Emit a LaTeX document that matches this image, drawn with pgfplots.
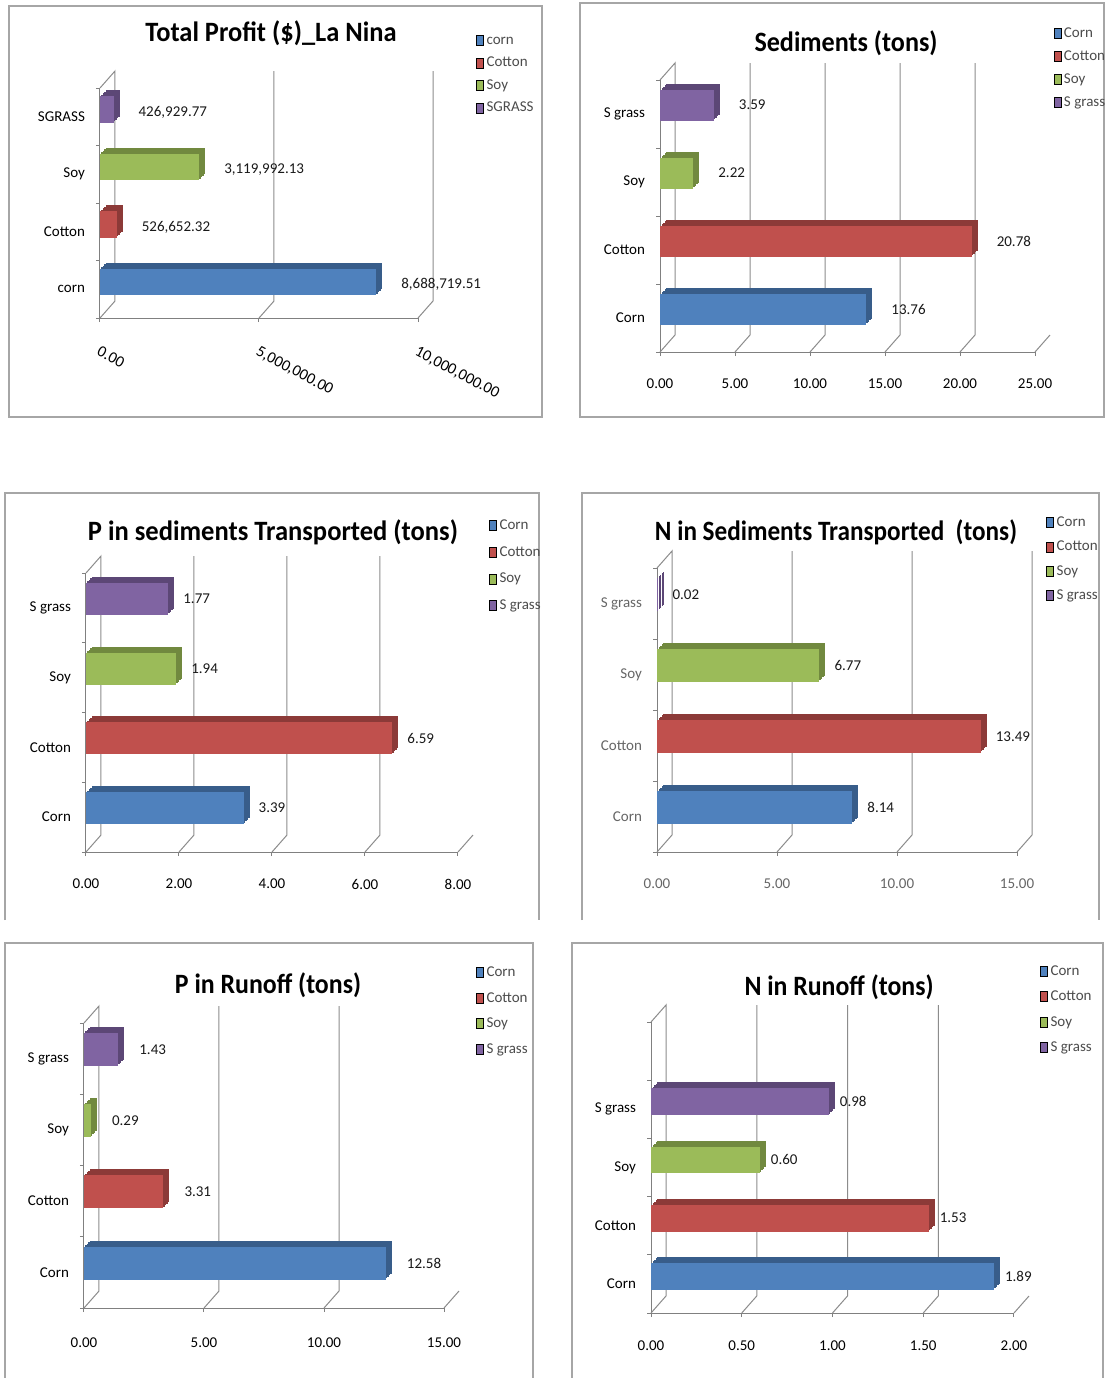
\documentclass[border=0pt]{standalone}
\usepackage{graphicx}
\usepackage{pgfplots}
\pgfplotsset{compat=1.18}
\usepackage{fontspec}
\setmainfont{Carlito}

\definecolor{cornF}{HTML}{4F81BD}
\definecolor{cornD}{HTML}{385D8A}
\definecolor{cottF}{HTML}{C0504D}
\definecolor{cottD}{HTML}{8C3A38}
\definecolor{soyF}{HTML}{9BBB59}
\definecolor{soyD}{HTML}{71893F}
\definecolor{sgF}{HTML}{8064A2}
\definecolor{sgD}{HTML}{5C4776}

\tikzset{
  frame/.style={draw=black!35, line width=0.8pt},
  wall/.style={draw=black!45, line width=0.5pt},
}

% depth of the back wall
\def\wdx{7.5pt}
\def\wdy{8.5pt}

\pgfplotsset{
  panel/.style={
    scale only axis, anchor=south west, clip=false,
    xbar, xmin=0, ymin=-0.5,
    scaled x ticks=false,
    axis lines*=left,
    axis line style={draw=black!50, line width=0.5pt},
    tick align=outside, major tick length=2pt,
    tick style={draw=black!50, line width=0.5pt},
    yticklabels={},
    extra y tick style={major tick length=0pt, yticklabel style={xshift=-4pt}},
    tick label style={font=\fontsize{7.5}{9}\selectfont},
    point meta=explicit symbolic,
    every node near coord/.append style={font=\fontsize{7.5}{9}\selectfont, text=black!90, anchor=west},
    legend image code/.code={\fill[##1] (0pt,-2.5pt) rectangle (3.5pt,2.5pt);},
    legend cell align=left,
    legend style={draw=none, fill=none, anchor=north west,
      font=\fontsize{7.5}{9}\selectfont, text=black!70,
      nodes={inner sep=0pt, inner xsep=1.2pt, text height=5.5pt, text depth=1.5pt}},
  },
  cb/.style={xbar, bar shift=0.13, bar width=0.46, draw=none},
}

% one extruded bar: side colour copies behind, face colour in front with its label
\newcommand{\cropbar}[3]{%
  \addplot[cb, fill=#2, forget plot, xshift=3pt, yshift=3pt] coordinates {#3};
  \addplot[cb, fill=#2, forget plot, xshift=2.25pt, yshift=2.25pt] coordinates {#3};
  \addplot[cb, fill=#2, forget plot, xshift=1.5pt, yshift=1.5pt] coordinates {#3};
  \addplot[cb, fill=#2, forget plot, xshift=0.75pt, yshift=0.75pt] coordinates {#3};
  \addplot[cb, fill=#1, forget plot, nodes near coords={\pgfplotspointmeta}] coordinates {#3};
}
% left wall of the box
\newcommand{\leftwall}[1]{%
  \draw[wall] (axis cs:0,-0.5) -- ([shift={(\wdx,\wdy)}]axis cs:0,-0.5)
     -- ([shift={(\wdx,\wdy)}]axis cs:0,#1) -- (axis cs:0,#1);}
% floor lines and back-wall grid lines
\newcommand{\gridwall}[2]{%
  \pgfplotsinvokeforeach{#2}{\draw[wall] (axis cs:##1,-0.5) -- ([shift={(\wdx,\wdy)}]axis cs:##1,-0.5)
     -- ([shift={(\wdx,\wdy)}]axis cs:##1,#1);}}
\newcommand{\floorwall}[1]{%
  \pgfplotsinvokeforeach{#1}{\draw[wall] (axis cs:##1,-0.5) -- ([shift={(\wdx,\wdy)}]axis cs:##1,-0.5);}}

\newcommand{\ttl}[4]{\node[inner sep=0pt] at (#1,#2) {\resizebox{#3}{\height}{\fontsize{14}{16}\selectfont\bfseries #4}};}

\begin{document}
\begin{tikzpicture}
\useasboundingbox (0,0) rectangle (553.5pt,-689pt);
\fill[white] (0,0) rectangle (553.5pt,-689pt);

% panel frames
\draw[frame] (4.5pt,-3pt) rectangle (271pt,-208.5pt);
\draw[frame] (290pt,-1.5pt) rectangle (552pt,-208.5pt);
\draw[frame] (2.5pt,-460pt) -- (2.5pt,-246.5pt) -- (269.5pt,-246.5pt) -- (269.5pt,-460pt);
\draw[frame] (291pt,-460pt) -- (291pt,-246.5pt) -- (549.5pt,-246.5pt) -- (549.5pt,-460pt);
\draw[frame] (2.5pt,-690pt) -- (2.5pt,-471.5pt) -- (266.5pt,-471.5pt) -- (266.5pt,-690pt);
\draw[frame] (286pt,-690pt) -- (286pt,-471.5pt) -- (551.5pt,-471.5pt) -- (551.5pt,-690pt);

% titles
\ttl{135.5pt}{-16.5pt}{125.5pt}{Total Profit (\$)\_La Nina}
\ttl{423pt}{-21.5pt}{91.5pt}{Sediments (tons)}
\ttl{136.5pt}{-266pt}{185pt}{P in sediments Transported (tons)}
\ttl{418pt}{-266pt}{181pt}{N in Sediments Transported\ \ (tons)}
\ttl{134pt}{-492.5pt}{93pt}{P in Runoff (tons)}
\ttl{419.5pt}{-493.5pt}{94.5pt}{N in Runoff (tons)}

% ---- Total profit
\begin{axis}[panel, at={(50pt,-159pt)}, width=159pt, height=115pt,
  xmax=1e7, ymax=3.5,
  xtick={0,5e6,1e7}, xticklabels={0.00,{5,000,000.00},{10,000,000.00}},
  xticklabel style={font=\fontsize{8}{9}\selectfont, xshift=-1pt, yshift=-7pt, rotate=-28, anchor=north west},
  ytick={-0.5,0.5,1.5,2.5,3.5},
  extra y ticks={0,1,2,3}, extra y tick labels={corn,Cotton,Soy,SGRASS},
  every node near coord/.append style={xshift=9pt, yshift=-1.5pt},
  legend style={at={(axis description cs:1.1635,1.2565)}, row sep=4.25pt}]
\leftwall{3.5}
\gridwall{3.5}{5e6,1e7}
\addlegendimage{fill=cornF}\addlegendentry{corn}
\addlegendimage{fill=cottF}\addlegendentry{Cotton}
\addlegendimage{fill=soyF}\addlegendentry{Soy}
\addlegendimage{fill=sgF}\addlegendentry{SGRASS}
\cropbar{cornF}{cornD}{(8688719.51,0) [{8,688,719.51}]}
\cropbar{cottF}{cottD}{(526652.32,1) [{526,652.32}]}
\cropbar{soyF}{soyD}{(3119992.13,2) [{3,119,992.13}]}
\cropbar{sgF}{sgD}{(426929.77,3) [{426,929.77}]}
\end{axis}

% ---- Sediments
\begin{axis}[panel, at={(330pt,-176pt)}, width=187.5pt, height=136pt,
  xmax=25, ymax=3.5,
  xtick={0,5,10,15,20,25}, xticklabels={0.00,5.00,10.00,15.00,20.00,25.00},
  xticklabel style={yshift=-8pt},
  ytick={-0.5,0.5,1.5,2.5,3.5},
  extra y ticks={0,1,2,3}, extra y tick labels={Corn,Cotton,Soy,S grass},
  every node near coord/.append style={xshift=9pt},
  legend style={at={(axis description cs:1.033,1.213)}, row sep=4.5pt}]
\leftwall{3.5}
\gridwall{3.5}{5,10,15,20}
\floorwall{25}
\addlegendimage{fill=cornF}\addlegendentry{Corn}
\addlegendimage{fill=cottF}\addlegendentry{Cotton}
\addlegendimage{fill=soyF}\addlegendentry{Soy}
\addlegendimage{fill=sgF}\addlegendentry{S grass}
\cropbar{cornF}{cornD}{(13.76,0) [13.76]}
\cropbar{cottF}{cottD}{(20.78,1) [20.78]}
\cropbar{soyF}{soyD}{(2.22,2) [2.22]}
\cropbar{sgF}{sgD}{(3.59,3) [3.59]}
\end{axis}

% ---- P in sediments
\begin{axis}[panel, at={(43pt,-426pt)}, width=186pt, height=139.5pt,
  xmax=8, ymax=3.5,
  xtick={0,2,4,6,8}, xticklabels={0.00,2.00,4.00,6.00,8.00},
  xticklabel style={yshift=-8pt},
  ytick={-0.5,0.5,1.5,2.5,3.5},
  extra y ticks={0,1,2,3}, extra y tick labels={Corn,Cotton,Soy,S grass},
  every node near coord/.append style={xshift=4pt},
  legend style={at={(axis description cs:1.067,1.211)}, row sep=6.35pt}]
\leftwall{3.5}
\gridwall{3.5}{2,4,6}
\floorwall{8}
\addlegendimage{fill=cornF}\addlegendentry{Corn}
\addlegendimage{fill=cottF}\addlegendentry{Cotton}
\addlegendimage{fill=soyF}\addlegendentry{Soy}
\addlegendimage{fill=sgF}\addlegendentry{S grass}
\cropbar{cornF}{cornD}{(3.39,0) [3.39]}
\cropbar{cottF}{cottD}{(6.59,1) [6.59]}
\cropbar{soyF}{soyD}{(1.94,2) [1.94]}
\cropbar{sgF}{sgD}{(1.77,3) [1.77]}
\end{axis}

% ---- N in sediments
\begin{axis}[panel, at={(328.5pt,-426pt)}, width=180pt, height=142pt,
  xmax=15, ymax=3.5,
  xtick={0,5,10,15}, xticklabels={0.00,5.00,10.00,15.00},
  xticklabel style={yshift=-8pt},
  tick label style={text=black!60},
  ytick={-0.5,0.5,1.5,2.5,3.5},
  extra y ticks={0,1,2,3}, extra y tick labels={Corn,Cotton,Soy,S grass},
  every node near coord/.append style={xshift=4pt},
  legend style={at={(axis description cs:1.064,1.2)}, row sep=5.15pt}]
\leftwall{3.5}
\gridwall{3.5}{5,10,15}
\addlegendimage{fill=cornF}\addlegendentry{Corn}
\addlegendimage{fill=cottF}\addlegendentry{Cotton}
\addlegendimage{fill=soyF}\addlegendentry{Soy}
\addlegendimage{fill=sgF}\addlegendentry{S grass}
\cropbar{cornF}{cornD}{(8.14,0) [8.14]}
\cropbar{cottF}{cottD}{(13.49,1) [13.49]}
\cropbar{soyF}{soyD}{(6.77,2) [6.77]}
\cropbar{sgF}{sgD}{(0.02,3) [0.02]}
\end{axis}

% ---- P in runoff
\begin{axis}[panel, at={(42pt,-654pt)}, width=180pt, height=142.5pt,
  xmax=15, ymax=3.5,
  xtick={0,5,10,15}, xticklabels={0.00,5.00,10.00,15.00},
  xticklabel style={yshift=-9.5pt},
  ytick={-0.5,0.5,1.5,2.5,3.5},
  extra y ticks={0,1,2,3}, extra y tick labels={Corn,Cotton,Soy,S grass},
  every node near coord/.append style={xshift=7pt},
  legend style={at={(axis description cs:1.072,1.2175)}, row sep=5.85pt}]
\leftwall{3.5}
\gridwall{3.5}{5,10}
\floorwall{15}
\addlegendimage{fill=cornF}\addlegendentry{Corn}
\addlegendimage{fill=cottF}\addlegendentry{Cotton}
\addlegendimage{fill=soyF}\addlegendentry{Soy}
\addlegendimage{fill=sgF}\addlegendentry{S grass}
\cropbar{cornF}{cornD}{(12.58,0) [12.58]}
\cropbar{cottF}{cottD}{(3.31,1) [3.31]}
\cropbar{soyF}{soyD}{(0.29,2) [0.29]}
\cropbar{sgF}{sgD}{(1.43,3) [1.43]}
\end{axis}

% ---- N in runoff
\begin{axis}[panel, at={(325.5pt,-656.5pt)}, width=181.5pt, height=145.5pt,
  xmax=2, ymax=4.5,
  xtick={0,0.5,1,1.5,2}, xticklabels={0.00,0.50,1.00,1.50,2.00},
  xticklabel style={yshift=-8.5pt},
  ytick={-0.5,0.5,1.5,2.5,3.5,4.5},
  extra y ticks={0,1,2,3}, extra y tick labels={Corn,Cotton,Soy,S grass},
  every node near coord/.append style={xshift=2pt},
  legend style={at={(axis description cs:1.055,1.213)}, row sep=5.65pt}]
\leftwall{4.5}
\gridwall{4.5}{0.5,1,1.5}
\floorwall{2}
\addlegendimage{fill=cornF}\addlegendentry{Corn}
\addlegendimage{fill=cottF}\addlegendentry{Cotton}
\addlegendimage{fill=soyF}\addlegendentry{Soy}
\addlegendimage{fill=sgF}\addlegendentry{S grass}
\cropbar{cornF}{cornD}{(1.89,0) [1.89]}
\cropbar{cottF}{cottD}{(1.53,1) [1.53]}
\cropbar{soyF}{soyD}{(0.60,2) [0.60]}
\cropbar{sgF}{sgD}{(0.98,3) [0.98]}
\end{axis}
\end{tikzpicture}
\end{document}
